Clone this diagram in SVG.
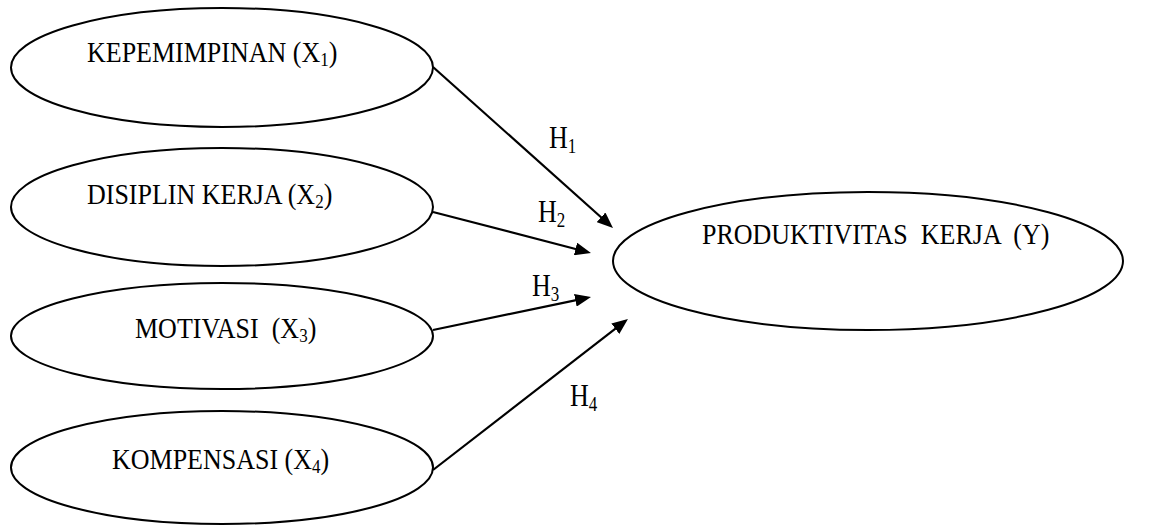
<svg xmlns="http://www.w3.org/2000/svg" width="1153" height="525" viewBox="0 0 1153 525">
<style>
  .node { fill: #ffffff; stroke: #000000; stroke-width: 2; }
  .lbl { font-family: "Liberation Serif", "Times New Roman", serif; font-size: 26px; fill: #000000; white-space: pre; }
  .sub { font-size: 17px; }
  .edge { stroke: #000000; stroke-width: 2.2; fill: none; marker-end: url(#arrow); }
</style>
<defs>
  <marker id="arrow" viewBox="0 0 16 13" refX="12" refY="6.5" markerWidth="16" markerHeight="13" markerUnits="userSpaceOnUse" orient="auto">
    <path d="M0,0 L16,6.5 L0,13 z" fill="#000000"/>
  </marker>
</defs>
<rect width="1153" height="525" fill="#ffffff"/>
<g id="x1">
  <ellipse class="node" cx="222" cy="67.5" rx="211" ry="59.5"/>
  <text class="lbl" transform="translate(0,62) scale(1,1.12)" x="87" y="0">KEPEMIMPINAN (X<tspan class="sub" dy="4">1</tspan><tspan dy="-4">)</tspan></text>
</g>
<g id="x2">
  <ellipse class="node" cx="222" cy="207" rx="211" ry="59"/>
  <text class="lbl" transform="translate(0,204) scale(1,1.12)" x="87" y="0">DISIPLIN KERJA (X<tspan class="sub" dy="4">2</tspan><tspan dy="-4">)</tspan></text>
</g>
<g id="x3">
  <ellipse class="node" cx="222" cy="336" rx="211" ry="53"/>
  <text class="lbl" transform="translate(0,338) scale(1,1.12)" x="135" y="0" xml:space="preserve">MOTIVASI  (X<tspan class="sub" dy="4">3</tspan><tspan dy="-4">)</tspan></text>
</g>
<g id="x4">
  <ellipse class="node" cx="222" cy="467.5" rx="211" ry="56.5"/>
  <text class="lbl" transform="translate(0,469) scale(1,1.12)" x="112" y="0">KOMPENSASI (X<tspan class="sub" dy="4">4</tspan><tspan dy="-4">)</tspan></text>
</g>
<g id="y">
  <ellipse class="node" cx="868" cy="261" rx="255" ry="69"/>
  <text class="lbl" transform="translate(0,244) scale(1,1.12)" x="702" y="0" xml:space="preserve">PRODUKTIVITAS  KERJA  (Y)</text>
</g>
<g id="connectors">
  <line class="edge" x1="433" y1="67" x2="610" y2="225.3"/>
  <line class="edge" x1="433" y1="212" x2="587.1" y2="252"/>
  <line class="edge" x1="433" y1="330" x2="587.1" y2="297.8"/>
  <line class="edge" x1="433" y1="470" x2="624.8" y2="321.4"/>
</g>
<g id="labels">
  <text class="lbl" transform="translate(0,148) scale(1,1.2)" x="549" y="0">H<tspan class="sub" dy="4">1</tspan></text>
  <text class="lbl" transform="translate(0,222) scale(1,1.2)" x="538" y="0">H<tspan class="sub" dy="4">2</tspan></text>
  <text class="lbl" transform="translate(0,296) scale(1,1.2)" x="532" y="0">H<tspan class="sub" dy="4">3</tspan></text>
  <text class="lbl" transform="translate(0,406) scale(1,1.2)" x="570" y="0">H<tspan class="sub" dy="4">4</tspan></text>
</g>
</svg>
